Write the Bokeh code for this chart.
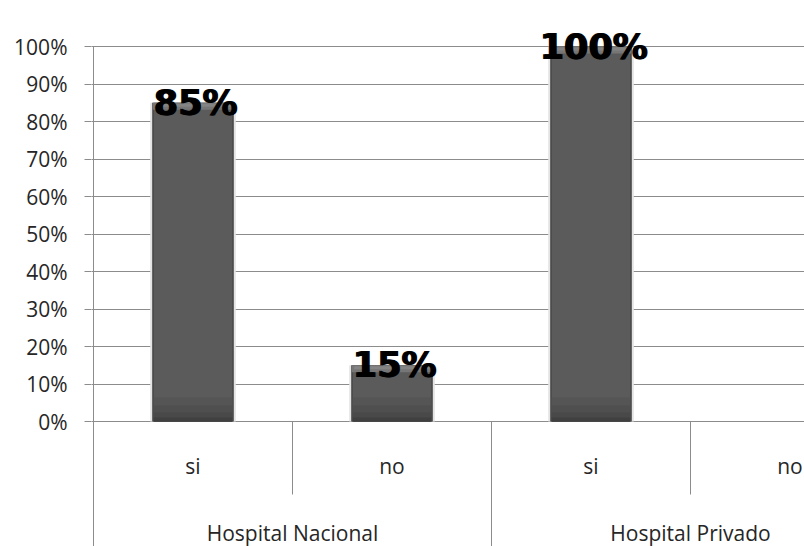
import numpy as np
from bokeh.plotting import figure
from bokeh.models import Range1d, FixedTicker, PrintfTickFormatter, ColumnDataSource
from bokeh.core.properties import value
from bokeh.embed import file_html
from bokeh.resources import INLINE

# ---- data ----
groups = ["Hospital Nacional", "Hospital Privado"]
answers = ["si", "no", "si", "no"]
percent = [85, 15, 100, 0]
pct_labels = ["85%", "15%", "100%", ""]
y_ticks = [0, 10, 20, 30, 40, 50, 60, 70, 80, 90, 100]

# ---- layout constants (pixels) ----
W, H = 804, 546
CAT_PX = 199.0          # width of one category
AXIS_X = 93             # pixel of category 0 boundary
ZERO_Y, PX_PER_PCT = 421.0, 3.75

x_start = -(AXIS_X - 91) / CAT_PX
x_end = (W - AXIS_X) / CAT_PX
y_end = ZERO_Y / PX_PER_PCT
y_start = -(H - ZERO_Y) / PX_PER_PCT

p = figure(width=W, height=H, output_backend="svg", toolbar_location=None,
           x_range=Range1d(x_start, x_end), y_range=Range1d(y_start, y_end),
           x_axis_location=None, min_border_left=91, min_border_right=0,
           min_border_top=0, min_border_bottom=0)
p.outline_line_color = None
p.background_fill_color = "white"
p.border_fill_color = "white"

LABEL_FONT = "Open Sans"
LABEL_SIZE = "21px"
LABEL_COLOR = "#262626"
GRID = "#8c8c8c"

# y axis
ax = p.yaxis[0]
ax.ticker = FixedTicker(ticks=y_ticks)
ax.formatter = PrintfTickFormatter(format="%d%%")
ax.axis_line_color = None
ax.major_tick_line_color = GRID
ax.major_tick_out = 7
ax.major_tick_in = 0
ax.minor_tick_line_color = None
ax.major_label_standoff = 17
ax.major_label_text_font = LABEL_FONT
ax.major_label_text_font_size = LABEL_SIZE
ax.major_label_text_color = LABEL_COLOR

p.xgrid.visible = False
p.ygrid.ticker = FixedTicker(ticks=y_ticks)
p.ygrid.grid_line_color = GRID
p.ygrid.grid_line_width = 1

centers = np.arange(len(percent)) + 0.5
vals = np.array(percent, dtype=float)

# bars (bevelled look built from nested layers)
px_x = 1.0 / CAT_PX
px_y = 1.0 / PX_PER_PCT
bw = 0.41
# soft shadow
p.vbar(x=centers, top=vals, bottom=0, width=bw + 4 * px_x, fill_color="#e4e4e4", line_color=None)
p.vbar(x=centers, top=vals, bottom=0, width=bw, fill_color="#474747", line_color=None)
p.vbar(x=centers, top=vals, bottom=0, width=bw - 3 * px_x, fill_color="#5b5b5b", line_color=None)
# top bevel
bev_bot = np.maximum(vals - 7 * px_y, 0)
p.vbar(x=centers, top=vals, bottom=bev_bot, width=bw - 1 * px_x, fill_color="#767676", line_color=None)
bev2_bot = np.maximum(vals - 4 * px_y, 0)
p.vbar(x=centers, top=vals - 1 * px_y * (vals > 0), bottom=bev2_bot, width=bw - 6 * px_x,
       fill_color="#848484", line_color=None)
# bottom darkening
for h, c in [(24, "#555555"), (16, "#4f4f4f"), (9, "#494949"), (4, "#404040")]:
    t = np.minimum(vals, h * px_y)
    p.vbar(x=centers, top=t, bottom=0, width=bw - 3 * px_x, fill_color=c, line_color=None)

# data labels (drawn twice, offset by a pixel, for a heavier weight)
src = ColumnDataSource(dict(x=centers, y=vals, t=pct_labels))
for dx in (0, 1.5):
    p.text(x="x", y="y", text="t", source=src, text_align="center", text_baseline="alphabetic",
           x_offset=dx + 2, y_offset=0, text_font=value("DejaVu Sans"), text_font_style="bold",
           text_font_size="35px", text_color="black")

# category dividers
lab_y = -(465 - ZERO_Y) / PX_PER_PCT
grp_y = -(532 - ZERO_Y) / PX_PER_PCT
short_y = -(494 - ZERO_Y) / PX_PER_PCT
p.segment(x0=[1, 3], y0=[0, 0], x1=[1, 3], y1=[short_y, short_y], line_color=GRID, line_width=1)
p.segment(x0=[0, 2, 4], y0=[100, 0, 0], x1=[0, 2, 4], y1=[y_start, y_start, y_start],
          line_color=GRID, line_width=1)

# category labels
p.text(x=centers, y=[lab_y] * len(answers), text=answers, text_align="center",
       text_baseline="middle", text_font=value(LABEL_FONT), text_font_size=LABEL_SIZE,
       text_color=LABEL_COLOR)
p.text(x=[1.0, 3.0], y=[grp_y] * len(groups), text=groups, text_align="center",
       text_baseline="middle", text_font=value(LABEL_FONT), text_font_size=LABEL_SIZE,
       text_color=LABEL_COLOR)

open("out.html", "w").write(file_html(p, INLINE))
